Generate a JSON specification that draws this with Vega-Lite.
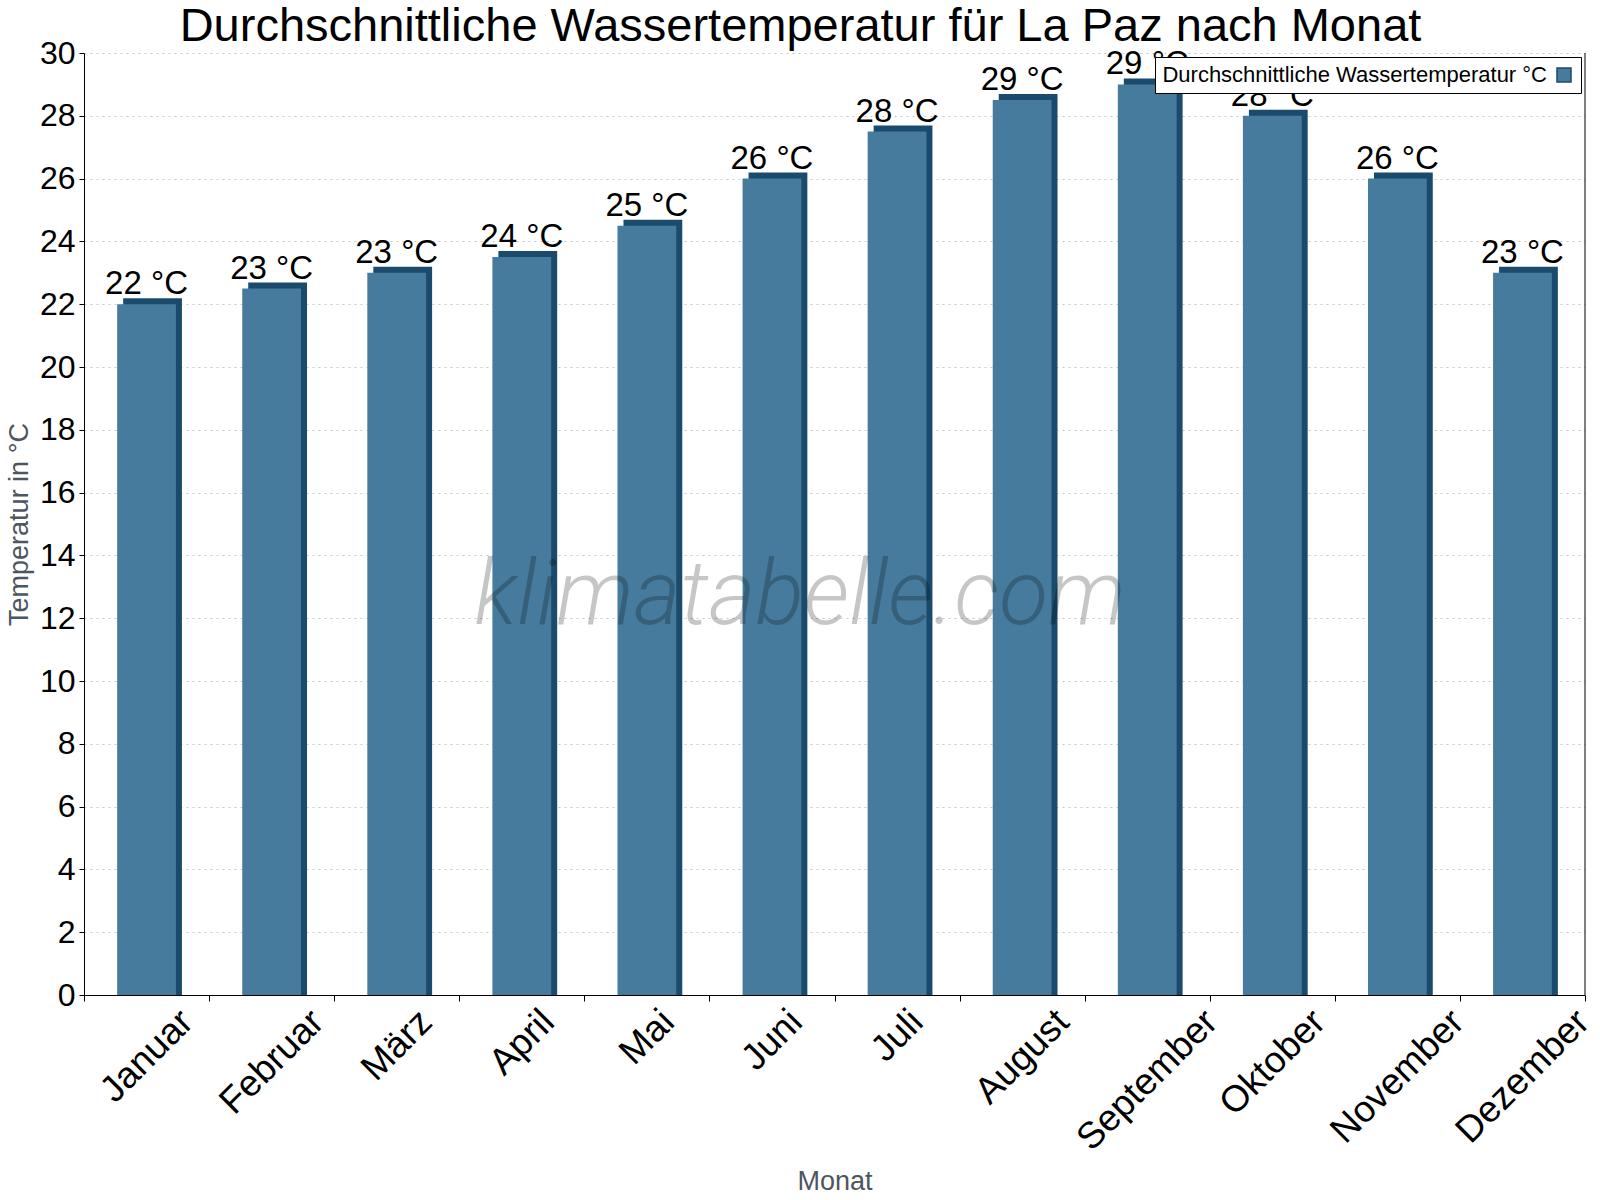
{
  "$schema": "https://vega.github.io/schema/vega-lite/v6.json",
  "description": "Durchschnittliche Wassertemperatur La Paz nach Monat",
  "width": 1501,
  "height": 942,
  "autosize": {"type": "none"},
  "padding": {"left": 84, "top": 53, "right": 15, "bottom": 205},
  "background": "white",
  "config": {
    "font": "Liberation Sans",
    "view": {"stroke": null}
  },
  "title": {
    "text": "Durchschnittliche Wassertemperatur für La Paz nach Monat",
    "fontSize": 47,
    "fontWeight": "normal",
    "color": "black",
    "anchor": "middle",
    "frame": "bounds",
    "offset": -14
  },
  "data": {
    "values": [
      {"monat": "Januar", "temp": 22, "label": "22 °C"},
      {"monat": "Februar", "temp": 22.5, "label": "23 °C"},
      {"monat": "März", "temp": 23, "label": "23 °C"},
      {"monat": "April", "temp": 23.5, "label": "24 °C"},
      {"monat": "Mai", "temp": 24.5, "label": "25 °C"},
      {"monat": "Juni", "temp": 26, "label": "26 °C"},
      {"monat": "Juli", "temp": 27.5, "label": "28 °C"},
      {"monat": "August", "temp": 28.5, "label": "29 °C"},
      {"monat": "September", "temp": 29, "label": "29 °C"},
      {"monat": "Oktober", "temp": 28, "label": "28 °C"},
      {"monat": "November", "temp": 26, "label": "26 °C"},
      {"monat": "Dezember", "temp": 23, "label": "23 °C"}
    ]
  },
  "encoding": {
    "x": {
      "field": "monat",
      "type": "nominal",
      "sort": null,
      "scale": {"paddingInner": 0, "paddingOuter": 0},
      "axis": {
        "title": "Monat",
        "titleFontSize": 27,
        "titleFontWeight": "normal",
        "titleColor": "#4d5560",
        "titlePadding": 12,
        "labelAngle": -45,
        "labelAlign": "right",
        "labelBaseline": "middle",
        "labelFontSize": 37,
        "labelColor": "black",
        "labelOffset": {"expr": "13.1 * ({'Januar': 3.06, 'Februar': 3.5, 'März': 2.22, 'April': 2.0, 'Mai': 1.61, 'Juni': 1.83, 'Juli': 1.5, 'August': 3.11, 'September': 4.89, 'Oktober': 3.56, 'November': 4.61, 'Dezember': 4.61})[datum.label]"},
        "labelPadding": 15,
        "labelLimit": 0,
        "tickBand": "extent",
        "tickColor": "black",
        "tickSize": 6,
        "domainColor": "black",
        "grid": false
      }
    },
    "y": {
      "field": "temp",
      "type": "quantitative",
      "scale": {"domain": [0, 30], "nice": false},
      "axis": {
        "title": "Temperatur in °C",
        "titleFontSize": 27,
        "titleFontWeight": "normal",
        "titleColor": "#4d5560",
        "titlePadding": 6,
        "labelFontSize": 32,
        "labelColor": "black",
        "labelPadding": 4,
        "values": [0, 2, 4, 6, 8, 10, 12, 14, 16, 18, 20, 22, 24, 26, 28, 30],
        "tickColor": "black",
        "tickSize": 5,
        "domainColor": "black",
        "gridColor": "#c8c8c8",
        "gridDash": [2, 4]
      }
    }
  },
  "layer": [
    {
      "mark": {"type": "bar", "color": "#1b4b6c", "width": {"band": 0.47}, "xOffset": 6, "yOffset": -6},
      "encoding": {"y2": {"datum": 0}}
    },
    {
      "mark": {"type": "bar", "width": {"band": 0.47}},
      "encoding": {
        "color": {
          "datum": "Durchschnittliche Wassertemperatur °C",
          "type": "nominal",
          "scale": {"range": ["#467b9d"]},
          "legend": {
            "title": null,
            "orient": "top-right",
            "offset": 4,
            "labelFontSize": 22,
            "labelColor": "black",
            "labelLimit": 0,
            "labelAlign": "right",
            "labelOffset": -28,
            "symbolOffset": 391,
            "symbolType": "square",
            "symbolSize": 196,
            "symbolStrokeColor": "#1b4b6c",
            "symbolStrokeWidth": 1.5,
            "strokeColor": "black",
            "fillColor": "white",
            "padding": 7,
            "cornerRadius": 0
          }
        }
      }
    },
    {
      "mark": {"type": "text", "fontSize": 33, "color": "black", "baseline": "alphabetic", "dy": -10},
      "encoding": {"text": {"field": "label"}}
    },
    {
      "data": {"values": [{"wasserzeichen": "klimatabelle.com", "monat": "Juni", "temp": 11.8}]},
      "mark": {
        "type": "text",
        "font": "Roboto",
        "fontSize": 90,
        "fontStyle": "italic",
        "fontWeight": 300,
        "color": "black",
        "opacity": 0.22,
        "align": "center",
        "baseline": "alphabetic",
        "dx": 28
      },
      "encoding": {
        "text": {"field": "wasserzeichen"}
      }
    },
    {
      "data": {"values": [{"monat": "Dezember"}]},
      "mark": {"type": "rule", "color": "black", "strokeWidth": 1},
      "encoding": {
        "x": {"field": "monat", "type": "nominal", "sort": null, "bandPosition": 1},
        "y": null
      }
    }
  ]
}
